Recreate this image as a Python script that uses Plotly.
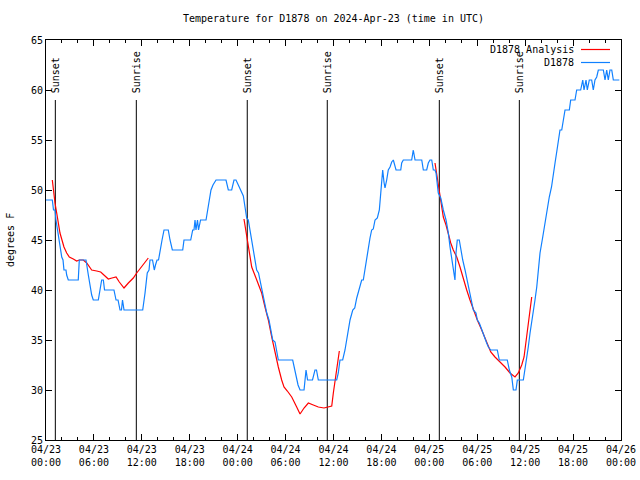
import plotly.graph_objects as go
import pandas as pd

START = pd.Timestamp("2024-04-23 00:00")
END = pd.Timestamp("2024-04-26 00:00")

TITLE = "Temperature for D1878 on 2024-Apr-23 (time in UTC)"
Y_LABEL = "degrees F"
SERIES_ANALYSIS = "D1878 Analysis"
SERIES_OBS = "D1878"

# Observed station temperature (hours after 2024-04-23 00:00 UTC, deg F)
obs_hours = [0.00, 0.79, 0.94, 1.13, 1.25, 1.44, 1.63, 1.75, 1.97, 2.13, 2.25, 2.50, 2.59, 2.79,
             4.04, 4.17, 5.01, 5.30, 5.51, 5.72, 5.92, 6.55, 6.76, 6.97, 7.18, 7.33, 8.51, 8.77,
             9.02, 9.27, 9.45, 9.58, 9.77, 12.11, 12.40, 12.68, 12.90, 13.02, 13.34, 13.56, 13.71,
             13.90, 14.09, 14.28, 14.53, 14.78, 15.31, 15.53, 15.82, 17.12, 17.28, 18.12, 18.37,
             18.53, 18.66, 18.78, 18.97, 19.10, 19.35, 20.04, 20.20, 20.45, 20.66, 20.91, 21.29,
             22.54, 22.83, 23.25, 23.54, 23.79, 24.08, 24.38, 24.71, 24.92, 25.13, 25.33, 25.54,
             25.76, 25.96, 26.17, 26.38, 26.61, 26.88, 27.09, 27.34, 27.64, 27.92, 28.14, 28.39,
             28.68, 28.89, 29.09, 30.89, 31.18, 31.39, 31.56, 31.81, 32.31, 32.56, 32.75, 33.37,
             33.68, 33.87, 34.10, 36.40, 36.60, 36.81, 37.15, 37.44, 37.65, 37.85, 38.07, 38.41,
             38.66, 38.91, 39.23, 39.53, 39.73, 39.95, 40.16, 40.36, 40.57, 40.78, 40.98, 41.20,
             41.49, 41.74, 41.82, 41.95, 42.04, 42.16, 42.32, 42.45, 42.66, 42.86, 43.08, 43.29,
             43.49, 43.70, 43.83, 44.42, 44.54, 44.74, 45.79, 45.99, 46.21, 47.05, 47.25, 47.67,
             47.87, 48.08, 48.30, 48.50, 48.71, 48.84, 48.96, 49.12, 49.43, 49.55, 49.75, 50.09,
             50.38, 50.59, 50.80, 51.00, 51.21, 51.34, 51.50, 51.75, 51.93, 52.18, 52.47, 52.68,
             52.88, 53.09, 53.31, 53.51, 53.84, 54.01, 54.26, 54.56, 54.76, 54.97, 55.18, 55.39,
             55.69, 56.51, 56.76, 57.76, 58.02, 58.32, 58.52, 58.85, 59.02, 59.77, 59.98, 60.19,
             60.39, 60.61, 60.82, 61.02, 61.23, 61.45, 61.65, 61.86, 62.20, 62.48, 62.77, 63.02,
             63.30, 63.52, 63.74, 63.95, 64.15, 64.36, 64.58, 64.78, 64.99, 65.53, 65.70, 66.24,
             66.45, 66.95, 67.21, 67.37, 67.62, 67.78, 68.03, 68.33, 68.53, 68.74, 68.96, 69.16,
             69.79, 70.00, 70.21, 70.41, 70.62, 70.84, 71.04, 71.25, 71.79]
obs_temp = [49, 49, 48, 48, 47, 46, 45, 44.5, 43.3, 43, 42, 42, 41.5, 41,
            41, 43, 43, 41.5, 40.5, 39.5, 39, 39, 40, 41, 41, 40, 40, 39,
            39, 38, 38, 39, 38, 38, 39.7, 41.7, 42, 43, 43, 42, 42.5,
            43, 43, 44, 45, 46, 46, 45, 44, 44, 45, 45, 46,
            46, 47, 46, 47, 46, 47, 47, 48, 49, 50, 50.5, 51,
            51, 50, 50, 51, 51, 50.5, 50, 49.4, 48.3, 47.2, 47, 46,
            45.2, 44, 43, 42, 41.7, 40.7, 39.7, 38.7, 37.7, 37, 36, 35,
            34.8, 34, 33, 33, 32, 31, 30.5, 30, 30, 32, 31, 31,
            32, 32, 31, 31, 31.7, 33, 33, 34, 35, 36, 37, 38,
            38.2, 39.2, 40.2, 41, 41, 42.2, 43.2, 44.2, 45.2, 46, 46.1, 47,
            47.2, 48, 48.8, 50.3, 51.3, 52, 50.8, 50.2, 51, 52, 52.3, 52.8,
            53, 52.2, 52, 52, 52.7, 53, 53, 54, 53, 53, 52, 52,
            52.7, 53, 53, 52, 52, 51.7, 50.7, 49.7, 49.2, 48.7, 48, 47,
            45.7, 44.3, 43.3, 42, 41, 43.7, 45, 45, 44, 43, 42, 41.2,
            40.2, 39.3, 38.7, 38, 37.7, 37, 36.7, 36, 35.7, 35.2, 34.7, 34.3,
            34, 34, 33, 33, 32, 31.3, 30, 30, 31, 31, 32, 33,
            34.3, 35.7, 36.7, 37.7, 39, 40.3, 41.7, 43.7, 45.3, 46.7, 48, 49.3,
            50.3, 51.3, 52.7, 53.8, 55, 56, 56, 57, 58, 58, 59, 59,
            60, 60, 61, 60, 61, 60, 61, 61, 60, 61, 61.3, 62,
            62, 61, 62, 61, 62, 62, 61, 61, 61]

# Analysis temperature (three separate runs, gaps marked with None)
ana_hours = [0.79, 0.91, 1.13, 1.34, 1.54, 1.75, 2.00, 2.25, 2.59, 2.92, 3.42, 3.84, 4.17, 4.67,
             5.10, 5.72, 6.35, 6.85, 7.39, 7.80, 8.26, 8.77, 9.18, 9.77, 10.31, 10.93, 11.36,
             11.98, 12.81, None,
             24.79, 25.04, 25.21, 25.33, 25.54, 25.76, 26.05, 26.38, 26.71, 27.01, 27.42, 27.84,
             28.26, 28.68, 29.09, 29.51, 29.80, 30.22, 30.77, 31.39, 31.81, 32.31, 32.85, 33.47,
             34.10, 34.81, 35.35, 35.78, 35.98, 36.19, 36.40, 36.60, 36.73, None,
             48.71, 48.92, 49.12, 49.34, 49.55, 49.75, 50.09, 50.38, 50.68, 51.00, 51.43, 51.84,
             52.18, 52.68, 53.09, 53.51, 54.01, 54.56, 55.18, 55.69, 56.22, 56.85, 57.48, 58.10,
             58.73, 59.14, 59.57, 59.86, 60.11, 60.39, 60.61, 60.82]
ana_temp = [51, 50, 48.7, 47.7, 46.5, 45.7, 45, 44.3, 43.7, 43.3, 43.1, 42.9, 43, 43,
            42.7, 42, 41.9, 41.8, 41.4, 41.1, 41.2, 41.3, 40.8, 40.2, 40.7, 41.2, 41.7,
            42.3, 43.2, None,
            47.1, 45.8, 45, 44.3, 43.3, 42.3, 41.7, 41, 40.5, 39.7, 38.3, 37,
            35.3, 33.7, 32.3, 31, 30.3, 29.9, 29.3, 28.3, 27.6, 28.2, 28.7, 28.5,
            28.3, 28.2, 28.3, 28.4, 29.7, 31, 32.3, 33.3, 33.9, None,
            52.7, 51.5, 50.5, 49.3, 48.3, 47.3, 46.5, 45.5, 44.7, 44, 43.3, 42.3,
            41.3, 40, 39, 38, 37, 36, 34.8, 33.8, 33.3, 32.8, 32.3, 31.7,
            31.3, 31.7, 32.5, 33.3, 34.8, 36.7, 38.2, 39.3]

# Sunset / sunrise events (hours after start)
sun_hours = [1.17, 11.31, 25.20, 35.22, 49.25, 59.27]
sun_labels = ["Sunset", "Sunrise", "Sunset", "Sunrise", "Sunset", "Sunrise"]
SUN_LINE_TOP = 59

Y_RANGE = [25, 65]


def to_time(h):
    return None if h is None else START + pd.Timedelta(hours=h)


obs_t = [to_time(h) for h in obs_hours]
ana_t = [to_time(h) for h in ana_hours]
sun_t = [to_time(h) for h in sun_hours]

RED = "#ff0000"
BLUE = "#1080ff"
FONT = "DejaVu Sans Mono"

fig = go.Figure()
fig.add_trace(go.Scatter(x=ana_t, y=ana_temp, mode="lines", name=SERIES_ANALYSIS,
                         line=dict(color=RED, width=1.2), connectgaps=False, showlegend=False))
fig.add_trace(go.Scatter(x=obs_t, y=obs_temp, mode="lines", name=SERIES_OBS,
                         line=dict(color=BLUE, width=1.2), showlegend=False))

for t, lab in zip(sun_t, sun_labels):
    fig.add_shape(type="line", xref="x", yref="y", x0=t, x1=t, y0=Y_RANGE[0], y1=SUN_LINE_TOP,
                  line=dict(color="black", width=1), layer="below")
    fig.add_annotation(x=t, y=SUN_LINE_TOP, xref="x", yref="y", text=lab, textangle=-90,
                       showarrow=False, xanchor="center", yanchor="bottom", yshift=5,
                       font=dict(family=FONT, size=10, color="black"))

# Legend drawn gnuplot-style: text right-aligned, line sample to the right
L, R, T, B = 46, 621, 40, 440
W, H = R - L, B - T


def px(xp):
    return (xp - L) / W


def py(yp):
    return (B - yp) / H


legend_items = [(SERIES_ANALYSIS, RED, 49.5), (SERIES_OBS, BLUE, 62.5)]
for name, col, ypix in legend_items:
    fig.add_annotation(x=px(576), y=py(ypix), xref="paper", yref="paper", text=name,
                       showarrow=False, xanchor="right", yanchor="middle",
                       font=dict(family=FONT, size=10, color="black"))
    fig.add_shape(type="line", xref="paper", yref="paper", x0=px(581), x1=px(610),
                  y0=py(ypix), y1=py(ypix), line=dict(color=col, width=1.2))

fig.add_annotation(x=px(10), y=0.5, xref="paper", yref="paper", text=Y_LABEL, textangle=-90,
                   showarrow=False, xanchor="center", yanchor="middle",
                   font=dict(family=FONT, size=10, color="black"))

fig.update_layout(
    width=640, height=480,
    margin=dict(l=L, r=640 - R, t=T, b=480 - B),
    paper_bgcolor="white", plot_bgcolor="white",
    font=dict(family=FONT, size=10, color="black"),
    title=dict(text=TITLE, x=(L + R) / 2 / 640, xanchor="center", y=1 - 18 / 480,
               yanchor="middle", font=dict(family=FONT, size=10, color="black")),
    showlegend=False,
)
fig.update_xaxes(
    type="date", range=[START, END], autorange=False,
    tick0=START, dtick=6 * 3600 * 1000, tickformat="%m/%d<br>%H:%M",
    ticks="inside", ticklen=6, tickwidth=1, tickcolor="black",
    minor=dict(dtick=2 * 3600 * 1000, ticks="inside", ticklen=3, tickcolor="black", showgrid=False),
    showline=True, linecolor="black", linewidth=1, mirror="ticks",
    showgrid=False, zeroline=False, automargin=False,
    tickfont=dict(family=FONT, size=10, color="black"),
)
fig.update_yaxes(
    range=Y_RANGE, autorange=False, dtick=5, tick0=25,
    ticks="inside", ticklen=6, tickwidth=1, tickcolor="black",
    showline=True, linecolor="black", linewidth=1, mirror="ticks",
    showgrid=False, zeroline=False, automargin=False,
    tickfont=dict(family=FONT, size=10, color="black"),
)

fig.write_html("out.html")
